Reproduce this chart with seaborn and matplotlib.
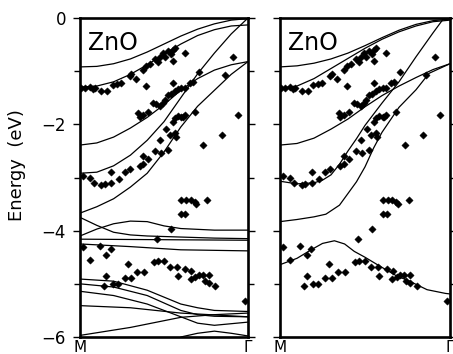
import numpy as np
import pandas as pd
import matplotlib
matplotlib.use("Agg")
import matplotlib.pyplot as plt
import seaborn as sns

# ---------------- data ----------------
k11 = [0.0, 0.1, 0.2, 0.3, 0.4, 0.5, 0.6, 0.7, 0.8, 0.9, 1.0]

# left panel theory bands (k from M=0 to Gamma=1, energy in eV)
left_A = (k11, [-0.92, -0.91, -0.86, -0.77, -0.64, -0.49, -0.34, -0.21, -0.11, -0.04, -0.01])
left_B = (k11, [-1.30, -1.28, -1.20, -1.06, -0.88, -0.68, -0.49, -0.33, -0.22, -0.15, -0.13])
left_C = (k11, [-2.39, -2.35, -2.24, -2.07, -1.87, -1.63, -1.36, -1.14, -0.98, -0.88, -0.82])
left_D = (k11, [-2.92, -2.90, -2.78, -2.58, -2.30, -1.95, -1.50, -1.05, -0.66, -0.30, 0.0])
left_E = (k11, [-3.67, -3.55, -3.40, -3.18, -2.92, -2.52, -2.05, -1.66, -1.36, -1.06, -0.82])
left_F = ([0, 0.1, 0.2, 0.3, 0.4, 0.6, 0.8, 1.0], [-3.75, -3.90, -4.03, -4.08, -4.10, -4.12, -4.14, -4.15])
left_G = ([0, 0.1, 0.2, 0.3, 0.4, 0.5, 0.6, 0.8, 1.0], [-4.10, -3.97, -3.87, -3.82, -3.83, -3.91, -3.96, -3.99, -3.99])
left_H = ([0, 0.5, 1.0], [-4.16, -4.17, -4.18])
left_I = ([0, 0.3, 0.6, 1.0], [-4.25, -4.30, -4.36, -4.38])
kJ = [0, 0.2, 0.4, 0.5, 0.6, 0.7, 0.8, 1.0]
left_J = (kJ, [-4.91, -4.95, -5.12, -5.25, -5.38, -5.45, -5.50, -5.52])
left_K = (kJ, [-5.00, -5.06, -5.22, -5.36, -5.50, -5.58, -5.61, -5.62])
left_L = (kJ, [-5.14, -5.22, -5.38, -5.50, -5.62, -5.74, -5.78, -5.72])
left_M = ([0, 0.3, 0.6, 1.0], [-5.41, -5.45, -5.55, -5.62])
left_N = ([0, 0.3, 0.6, 0.8, 1.0], [-5.97, -5.82, -5.63, -5.58, -5.55])
left_O = ([0.6, 0.7, 0.8, 0.9, 1.0], [-6.0, -5.93, -5.89, -5.93, -5.98])

# right panel theory bands
right_A = (k11, [-0.92, -0.90, -0.85, -0.77, -0.66, -0.52, -0.37, -0.23, -0.12, -0.05, -0.02])
right_B = (k11, [-1.32, -1.28, -1.14, -0.95, -0.76, -0.57, -0.40, -0.26, -0.15, -0.07, -0.04])
right_C = (k11, [-2.39, -2.36, -2.26, -2.09, -1.90, -1.67, -1.46, -1.28, -1.12, -0.97, -0.86])
right_D = ([0, 0.1, 0.2, 0.25, 0.3, 0.35, 0.4, 0.45, 0.5, 0.6, 0.7, 0.8, 0.9, 0.96, 1.0],
           [-3.07, -3.12, -3.10, -3.05, -2.95, -2.75, -2.50, -2.27, -2.02, -1.60, -1.20, -0.73, -0.28, -0.02, 0.0])
right_E = ([0, 0.1, 0.2, 0.27, 0.35, 0.4, 0.45, 0.5, 0.55, 0.6, 0.7, 0.8, 0.877, 1.0],
           [-3.83, -3.79, -3.74, -3.69, -3.52, -3.30, -3.08, -2.80, -2.45, -2.15, -1.68, -1.35, -1.04, -0.86])
right_F = ([0, 0.1, 0.183, 0.25, 0.32, 0.38, 0.437, 0.5, 0.573, 0.68, 0.768, 0.865, 0.973, 1.0],
           [-4.64, -4.52, -4.36, -4.24, -4.19, -4.25, -4.39, -4.50, -4.64, -4.84, -4.96, -5.11, -5.18, -5.19])

# experimental points (shared by both panels)
exp_k = [0.008, 0.032, 0.058, 0.077, 0.091, 0.127, 0.163, 0.196, 0.222, 0.246,
         0.296, 0.306, 0.336, 0.375, 0.395, 0.415, 0.445, 0.464, 0.474, 0.494,
         0.504, 0.524, 0.540, 0.554, 0.563, 0.554, 0.623, 0.395, 0.554,
         0.345, 0.355, 0.375, 0.405, 0.434, 0.454, 0.474, 0.494, 0.508, 0.524,
         0.544, 0.563, 0.583, 0.603, 0.623, 0.653, 0.673, 0.706,
         0.563, 0.583, 0.603, 0.613, 0.623, 0.683, 0.861, 0.911, 0.940, 0.843, 0.733,
         0.514, 0.554, 0.534, 0.563, 0.570, 0.474, 0.484, 0.524, 0.448, 0.405,
         0.375, 0.355, 0.375, 0.296, 0.266, 0.230, 0.186, 0.186, 0.147, 0.127,
         0.083, 0.058, 0.018,
         0.603, 0.633, 0.659, 0.683, 0.692, 0.758, 0.603, 0.627, 0.540, 0.460,
         0.018, 0.058, 0.117, 0.157, 0.183, 0.286, 0.157, 0.143, 0.196, 0.226,
         0.266, 0.306, 0.341, 0.381, 0.440, 0.464, 0.500, 0.534, 0.579, 0.583,
         0.627, 0.663, 0.659, 0.687, 0.706, 0.732, 0.766, 0.742, 0.766, 0.806, 0.980]
exp_E = [-1.32, -1.31, -1.30, -1.33, -1.32, -1.37, -1.38, -1.26, -1.25, -1.23,
         -1.10, -1.06, -1.15, -0.98, -0.91, -0.87, -0.78, -0.82, -0.73, -0.66,
         -0.73, -0.63, -0.68, -0.60, -0.57, -0.81, -0.66, -1.28, -1.23,
         -1.79, -1.86, -1.82, -1.76, -1.59, -1.62, -1.65, -1.59, -1.54, -1.45,
         -1.43, -1.37, -1.33, -1.32, -1.31, -1.23, -1.20, -1.01,
         -1.88, -1.84, -1.86, -1.87, -1.82, -1.76, -1.07, -0.73, -1.83, -2.21, -2.38,
         -2.09, -1.95, -2.21, -2.17, -2.23, -2.29, -2.54, -2.48, -2.51, -2.65,
         -2.59, -2.78, -2.75, -2.84, -2.90, -3.03, -2.90, -3.11, -3.13, -3.15,
         -3.10, -3.00, -2.98,
         -3.42, -3.42, -3.42, -3.46, -3.50, -3.43, -3.68, -3.68, -3.97, -4.15,
         -4.30, -4.55, -4.28, -4.45, -4.35, -4.63, -4.86, -5.05, -5.01, -5.01,
         -4.89, -4.89, -4.78, -4.78, -4.58, -4.57, -4.57, -4.69, -4.69, -4.85,
         -4.72, -4.75, -4.91, -4.88, -4.84, -4.83, -4.83, -4.94, -4.99, -5.04, -5.32]

x_ticklabels = ["M", "\u0393"]
y_ticks_major = [0, -2, -4, -6]
y_ticks_minor = [-1, -3, -5]
panel_title = "ZnO"
y_label = "Energy  (eV)"


def bands_frame(bands):
    rows = []
    for i, (kk, ee) in enumerate(bands):
        for a, b in zip(kk, ee):
            rows.append((i, a, b))
    return pd.DataFrame(rows, columns=["band", "k", "E"])


left_df = bands_frame([left_A, left_B, left_C, left_D, left_E, left_F, left_G, left_H,
                       left_I, left_J, left_K, left_L, left_M, left_N, left_O])
right_df = bands_frame([right_A, right_B, right_C, right_D, right_E, right_F])
exp_df = pd.DataFrame({"k": exp_k, "E": exp_E})

# ---------------- plot ----------------
sns.set_style("ticks")
plt.rcParams["font.family"] = ["DejaVu Sans"]
plt.rcParams["text.color"] = "black"
plt.rcParams["xtick.color"] = "black"
plt.rcParams["ytick.color"] = "black"
plt.rcParams["axes.labelcolor"] = "black"

W, H = 453, 354
fig = plt.figure(figsize=(W / 100, H / 100), dpi=100)
ax1 = fig.add_axes([80 / W, 17 / H, 168 / W, 319 / H])
ax2 = fig.add_axes([280 / W, 17 / H, 170 / W, 319 / H])

for ax, df in ((ax1, left_df), (ax2, right_df)):
    sns.lineplot(data=df, x="k", y="E", units="band", estimator=None, sort=False,
                 color="black", linewidth=0.9, ax=ax, legend=False)
    sns.scatterplot(data=exp_df, x="k", y="E", marker="D", s=14, color="black",
                    edgecolor="black", linewidth=0.3, ax=ax, legend=False, zorder=3)
    ax.set_xlim(0, 1)
    ax.set_ylim(-6, 0)
    ax.set_xlabel("")
    ax.set_ylabel("")
    ax.set_xticks([0, 1])
    ax.set_xticklabels(x_ticklabels, fontsize=11, color="black")
    ax.tick_params(axis="x", length=0, pad=2)
    ax.set_yticks(y_ticks_major)
    ax.set_yticks(y_ticks_minor, minor=True)
    ax.tick_params(axis="y", which="both", direction="out", left=True, right=True,
                   width=1.0, color="black", labelcolor="black")
    ax.tick_params(axis="y", which="major", length=5)
    ax.tick_params(axis="y", which="minor", length=4)
    for s in ax.spines.values():
        s.set_visible(True)
        s.set_linewidth(1.9)
        s.set_color("black")
    ax.text(0.045, 0.96, panel_title, transform=ax.transAxes, ha="left", va="top",
            fontsize=17, color="black")

ax1.set_yticklabels([str(v) if v == 0 else "\u2212" + str(-v) for v in y_ticks_major],
                    fontsize=12, color="black")
ax1.tick_params(axis="y", which="major", pad=5)
ax2.set_yticklabels([])
fig.text(17 / W, 1 - 165 / H, y_label, rotation=90, ha="center", va="center",
         fontsize=13, color="black")

fig.savefig("out.png", dpi=100)
